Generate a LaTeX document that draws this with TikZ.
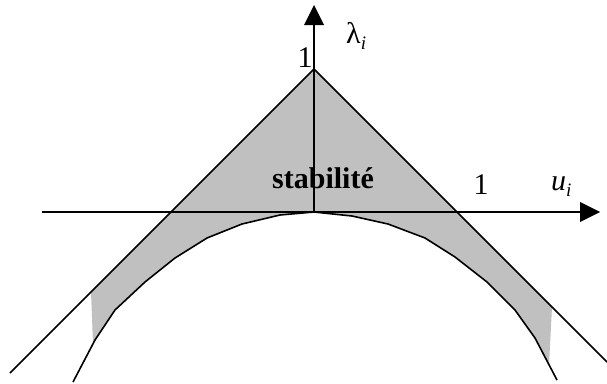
\documentclass[tikz,border=0pt]{standalone}
\usepackage{fontspec}
\setmainfont{Liberation Serif}
\begin{document}
\begin{tikzpicture}[x=1pt,y=-1pt,
  ln/.style={line width=1.6pt, line join=round},
  lbl/.style={inner sep=0pt, font=\fontsize{30}{30}\selectfont},
  head/.style={fill=black, draw=none}]
\useasboundingbox (0,0) rectangle (607,383);
% coordinates
\coordinate (apex) at (314,69);
\coordinate (lend) at (10,373);
\coordinate (rend) at (607,362);
\coordinate (ax0) at (42,212);
\coordinate (ax1) at (582,212);
\coordinate (ay0) at (314,212);
\coordinate (ay1) at (314,23);
% gray region
\fill[fill={rgb,255:red,192;green,192;blue,192}]
  (91,292) -- (apex) -- (552,307) -- (549,365) -- (535,338) -- (515,310) -- (487,282) -- (455,257)
  -- (425,238) -- (388,224) -- (352,216) -- (314,212) -- (280,215) -- (242,224) -- (207,238)
  -- (175,258) -- (145,282) -- (115,310) -- (93,343) -- cycle;
% curve
\draw[ln] (73,382) -- (95,340) -- (115,310) -- (145,282) -- (175,258) -- (207,238) -- (242,224)
  -- (280,215) -- (314,212) -- (352,216) -- (388,224) -- (425,238) -- (455,257) -- (487,282)
  -- (515,310) -- (535,338) -- (557,380);
% slanted lines
\draw[ln] (lend) -- (apex) -- (rend);
% axes
\draw[ln] (ax0) -- (ax1);
\draw[ln] (ay0) -- (ay1);
\fill[head] (600,212) -- (580,202) -- (580,222) -- cycle;
\fill[head] (314,5) -- (304,25) -- (324,25) -- cycle;
% labels
\node[lbl, anchor=base] (one1) at (305,67) {1};
\node[lbl, anchor=base west] (lam) at (346,43) {λ\raisebox{-0.2em}{\fontsize{19}{19}\selectfont\itshape i}};
\node[lbl, anchor=base] (one2) at (481,194) {1};
\node[lbl, anchor=base west] (ui) at (551,190) {\itshape u\raisebox{-0.2em}{\fontsize{19}{19}\selectfont i}};
\node[lbl, anchor=base] (stab) at (323,188) {\bfseries stabilité};
\end{tikzpicture}
\end{document}
